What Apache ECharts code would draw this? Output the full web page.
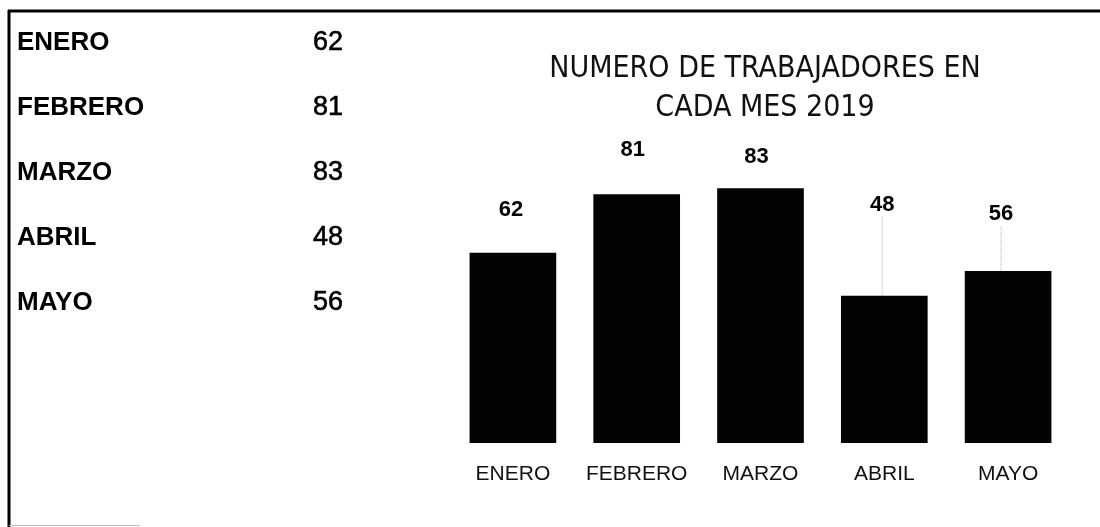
<!DOCTYPE html>
<html>
<head>
<meta charset="utf-8">
<style>
  html, body { margin: 0; padding: 0; background: #fff; }
  #chart { width: 1100px; height: 527px; }
</style>
<script src="https://cdn.jsdelivr.net/npm/echarts@6/dist/echarts.min.js"></script>
</head>
<body>
<div id="chart"></div>
<script>
// Workers per month, 2019
const months = ['ENERO', 'FEBRERO', 'MARZO', 'ABRIL', 'MAYO'];
const workers = [62, 81, 83, 48, 56];
const chartTitle = 'NUMERO DE TRABAJADORES EN\nCADA MES 2019';

// Where each value label sits relative to its bar top (px), and which get a guide line
const labelShift = [[-2, -32], [-4, -33], [-4, -20], [-2, -80], [-7, -46]];
const withGuide = [false, false, false, true, true];

const chart = echarts.init(document.getElementById('chart'), null, { renderer: 'canvas' });

const barData = workers.map((v, i) => ({
  value: v,
  labelLine: { show: withGuide[i] }
}));

// Left-hand summary list: month name + count, laid out on its own category axis
const listData = months.map((m, i) => [0, i]);

chart.setOption({
  backgroundColor: '#ffffff',
  animation: false,
  title: {
    text: chartTitle,
    left: 760,
    top: 45,
    textAlign: 'center',
    textStyle: {
      fontFamily: "'Liberation Sans Narrow', 'DejaVu Sans Condensed', sans-serif",
      fontWeight: 'normal',
      fontSize: 30,
      lineHeight: 39,
      color: '#111'
    }
  },
  grid: [
    { left: 451, right: 30, top: 136, bottom: 84 },
    { left: 313, width: 60, top: 10, height: 325 }
  ],
  xAxis: [
    {
      type: 'category',
      gridIndex: 0,
      data: months,
      axisLine: { show: false },
      axisTick: { show: false },
      axisLabel: {
        interval: 0,
        margin: 21,
        fontFamily: "'Liberation Sans', Arial, sans-serif",
        fontSize: 21,
        color: '#111'
      }
    },
    {
      type: 'value',
      gridIndex: 1,
      min: 0,
      max: 1,
      show: false
    }
  ],
  yAxis: [
    {
      type: 'value',
      gridIndex: 0,
      min: 0,
      max: 100,
      show: false,
      splitLine: { show: false }
    },
    {
      type: 'category',
      gridIndex: 1,
      data: months,
      inverse: true,
      axisLine: { show: false },
      axisTick: { show: false },
      splitLine: { show: false },
      axisLabel: {
        interval: 0,
        align: 'left',
        margin: 296,
        fontFamily: "'Liberation Sans', Arial, sans-serif",
        fontWeight: 'bold',
        fontSize: 26,
        color: '#000'
      }
    }
  ],
  series: [
    {
      type: 'bar',
      xAxisIndex: 0,
      yAxisIndex: 0,
      data: barData,
      barCategoryGap: '30%',
      itemStyle: { color: '#030303' },
      label: {
        show: true,
        position: 'top',
        distance: 0,
        fontFamily: "'Liberation Sans', Arial, sans-serif",
        fontWeight: 'bold',
        fontSize: 22,
        color: '#000'
      },
      labelLine: {
        show: false,
        lineStyle: { color: '#b0b0b0', width: 1, type: 'dotted' }
      },
      labelLayout: function (p) {
        const s = labelShift[p.dataIndex];
        return { dx: s[0], dy: s[1] };
      }
    },
    {
      type: 'scatter',
      xAxisIndex: 1,
      yAxisIndex: 1,
      data: listData,
      symbolSize: 0,
      silent: true,
      itemStyle: { opacity: 1 },
      label: {
        show: true,
        position: 'right',
        distance: 0,
        formatter: (p) => String(workers[p.dataIndex]),
        fontFamily: "'Liberation Sans', Arial, sans-serif",
        fontSize: 27,
        color: '#000',
        textBorderColor: '#000',
        textBorderWidth: 0.6
      }
    }
  ],
  graphic: [
    // frame: top rule and left rule
    { type: 'line', shape: { x1: 8, y1: 11, x2: 1100, y2: 11 }, style: { stroke: '#000', lineWidth: 3 } },
    { type: 'line', shape: { x1: 9, y1: 10, x2: 9, y2: 527 }, style: { stroke: '#000', lineWidth: 3 } },
    { type: 'line', shape: { x1: 9, y1: 525.5, x2: 140, y2: 525.5 }, style: { stroke: '#bbb', lineWidth: 1 } }
  ]
});
</script>
</body>
</html>
